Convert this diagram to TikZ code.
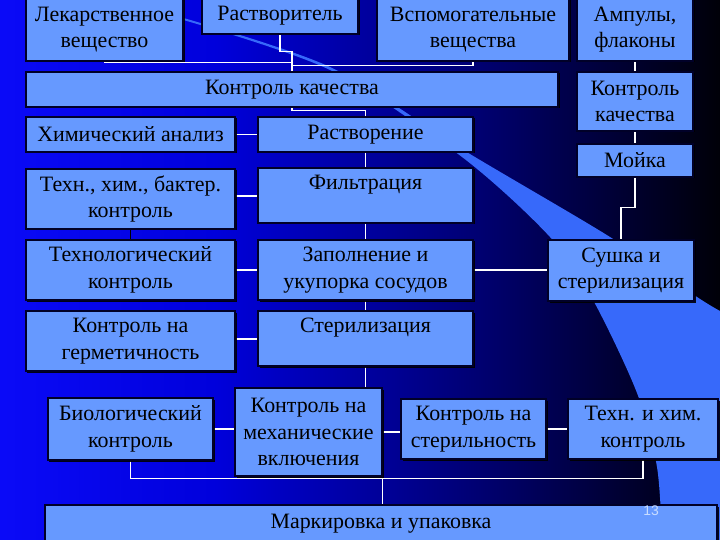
\documentclass[tikz,border=0pt]{standalone}
\usepackage{fontspec}
\setmainfont{Liberation Serif}
\newfontfamily\numfont{Liberation Sans}
\usetikzlibrary{shadows,calc}
\definecolor{boxfill}{RGB}{102,153,255}
\definecolor{boxedge}{RGB}{0,0,40}
\definecolor{bandcol}{RGB}{55,105,250}
\definecolor{numcol}{RGB}{200,220,255}
\pgfdeclarelayer{bg}
\pgfdeclarelayer{edges}
\pgfsetlayers{bg,edges,main}
\pgfdeclarehorizontalshading{bgshade}{100bp}{rgb(0bp)=(0.04,0.04,0.97); rgb(25bp)=(0.04,0.04,0.97); rgb(40bp)=(0,0,0.86); rgb(58bp)=(0,0,0.45); rgb(68bp)=(0,0,0.2); rgb(75bp)=(0,0,0.03); rgb(100bp)=(0,0,0.03)}
\begin{document}
\begin{tikzpicture}[x=1bp,y=-1bp,
  box/.style={draw=boxedge, line width=1.3bp, fill=boxfill, inner sep=0pt, align=center,
    text=black, font=\fontsize{22}{26.5}\selectfont,
    drop shadow={shadow xshift=1.5bp, shadow yshift=-1.5bp, fill=black, opacity=0.9}},
  conn/.style={draw=white, line width=1.2bp},
  darkconn/.style={draw=black, line width=1.2bp}]
\useasboundingbox (0,0) rectangle (720,540);
\clip (0,0) rectangle (720,540);
\begin{pgfonlayer}{bg}
\shade[shading=bgshade] (0,0) rectangle (720,540);
\fill[bandcol] plot[smooth,tension=0.5] coordinates {(180,17) (330,67) (465,151) (610,237) (694,295) (720,311)}
  -- (720,540) -- plot[smooth,tension=0.5] coordinates {(662,540) (657,467) (637,393) (593,300) (550,237) (462,157) (330,70) (180,19)} -- cycle;
\end{pgfonlayer}

\node[box, minimum width=157bp, minimum height=63bp] (L) at (104.5,29.5) {Лекарственное\\вещество};
\node[box, minimum width=156bp, minimum height=36bp] (R) at (280,16) {Растворитель};
\node[box, minimum width=192bp, minimum height=63bp] (V) at (473,29.5) {Вспомогательные\\вещества};
\node[box, minimum width=116bp, minimum height=63bp] (A) at (635,29.5) {Ампулы,\\флаконы};
\node[box, minimum width=532bp, minimum height=35bp] (KK) at (292,89.5) {Контроль качества};
\node[box, minimum width=116bp, minimum height=59bp] (KK2) at (635,101.5) {Контроль\\качества};
\node[box, minimum width=116bp, minimum height=33bp] (M) at (635,160.5) {Мойка};
\node[box, minimum width=209bp, minimum height=35bp] (H) at (130.5,134.5) {Химический анализ};
\node[box, minimum width=215bp, minimum height=35bp] (Rs) at (365.5,134.5) {Растворение};
\node[box, minimum width=209bp, minimum height=60bp] (T1) at (130.5,199) {Техн., хим., бактер.\\контроль};
\node[box, minimum width=215bp, minimum height=55bp] (F) at (365.5,195.5) {Фильтрация\\~};
\node[box, minimum width=209bp, minimum height=60bp] (T2) at (130.5,270) {Технологический\\контроль};
\node[box, minimum width=215bp, minimum height=60bp] (Z) at (365.5,270) {Заполнение и\\укупорка сосудов};
\node[box, minimum width=146bp, minimum height=61bp] (S) at (621,270.5) {Сушка и\\стерилизация};
\node[box, minimum width=209bp, minimum height=60bp] (G) at (130.5,341) {Контроль на\\герметичность};
\node[box, minimum width=215bp, minimum height=55bp] (St) at (365.5,338.5) {Стерилизация\\~};
\node[box, minimum width=165bp, minimum height=62bp] (B) at (130.5,429) {Биологический\\контроль};
\node[box, minimum width=147bp, minimum height=88bp] (Mech) at (308.5,432) {Контроль на\\механические\\включения};
\node[box, minimum width=145bp, minimum height=60bp] (Ster) at (473.5,429) {Контроль на\\стерильность};
\node[box, minimum width=150bp, minimum height=60bp] (TH) at (643,429) {Техн. и хим.\\контроль};
\node[box, minimum width=672bp, minimum height=37bp] (Mk) at (381,523.5) {Маркировка и упаковка};
\node[text=numcol, font=\numfont\fontsize{14}{16}\selectfont] (num) at (651,511) {13};

\begin{pgfonlayer}{edges}
\draw[conn] (R.south) |- ($(KK.north)+(0,-20)$) -- (KK.north);
\draw[conn] (L.south) |- ($(KK.north)+(0,-9)$);
\draw[conn] (V.south) |- ($(KK.north)+(0,-6)$);
\draw[conn] (KK.south) -- ++(0,3) -| (Rs.north);
\draw[conn] (Rs.south) -- (F.north);
\draw[conn] (F.south) -- (Z.north);
\draw[conn] (Z.south) -- (St.north);
\draw[conn] (St.south) -- (St.south |- Mech.north);
\draw[conn] (H.east) -- (Rs.west);
\draw[conn] ($(T1.east)+(0,-3)$) -- ($(T1.east -| F.west)+(0,-3)$);
\draw[darkconn] (T1.south) -- (T2.north);
\draw[conn] (T2.east) -- (Z.west);
\draw[conn] ($(G.east)+(0,-2)$) -- ($(G.east -| St.west)+(0,-2)$);
\draw[conn] (Z.east) -- (S.west |- Z.east);
\draw[conn] (A.south) -- (KK2.north);
\draw[conn] (KK2.south) -- (M.north);
\draw[conn] (M.south) -- ++(0,30) -| (S.north);
\draw[conn] (B.east) -- (B.east -| Mech.west);
\draw[conn] (Mech.east) -- (Mech.east -| Ster.west);
\draw[conn] (Ster.east) -- (TH.west);
\draw[conn] (B.south) -- ++(0,18) -| (TH.south);
\draw[conn] ($(Mech.south east)+(0,2)$) -- (Mech.south east |- Mk.north);
\end{pgfonlayer}
\end{tikzpicture}
\end{document}
